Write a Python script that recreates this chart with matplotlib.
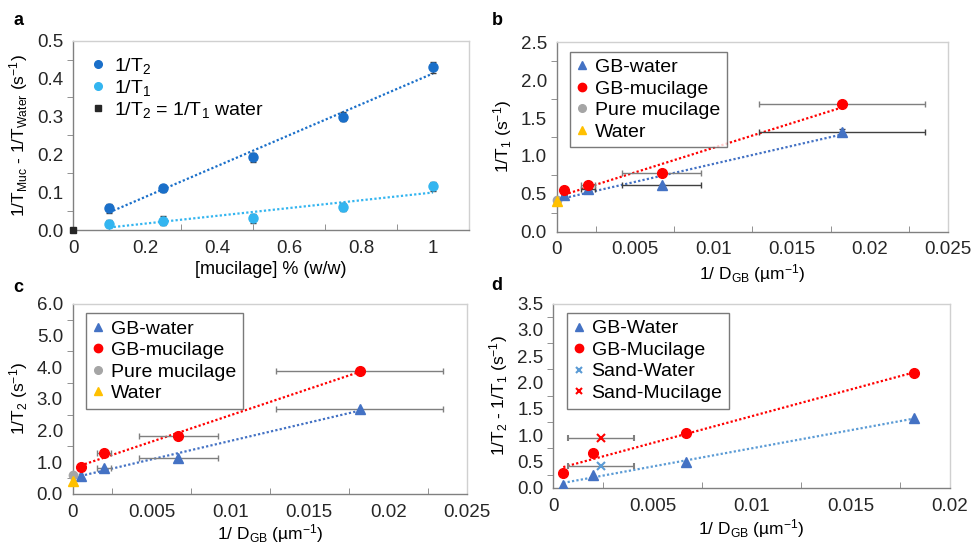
import matplotlib
matplotlib.use("Agg")
import matplotlib.pyplot as plt
from matplotlib.lines import Line2D
from matplotlib.ticker import MultipleLocator, FuncFormatter
import numpy as np

# ---- panel a: relaxation rate vs mucilage concentration
MUC_CONC = [0.1, 0.25, 0.5, 0.75, 1.0]
A_T2 = [0.058, 0.110, 0.192, 0.299, 0.430]
A_T2_ERR = [0.012, 0.010, 0.012, 0.012, 0.015]
A_T1 = [0.017, 0.025, 0.031, 0.061, 0.115]
A_T1_ERR = [0.010, 0.012, 0.012, 0.010, 0.012]
A_WATER = (0.0, 0.0)

# ---- panels b-d: against 1/D_GB
INV_D = [0.0005, 0.002, 0.0067, 0.0182]
INV_D_ERR = [0.0001, 0.00045, 0.0025, 0.0053]

B_GB_WATER = [0.48, 0.56, 0.62, 1.32]
B_GB_MUC = [0.55, 0.61, 0.77, 1.68]
B_PURE_MUC = 0.42
B_WATER = 0.41

C_GB_WATER = [0.58, 0.83, 1.15, 2.67]
C_GB_MUC = [0.85, 1.28, 1.82, 3.88]
C_PURE_MUC = 0.60
C_WATER = 0.42

D_GB_WATER = [0.06, 0.25, 0.50, 1.32]
D_GB_MUC = [0.28, 0.66, 1.04, 2.18]
SAND_X = 0.0024
SAND_X_ERR = 0.00165
D_SAND_WATER = 0.42
D_SAND_MUC = 0.94

BLUE = "#4472c4"
LBLUE = "#5b9bd5"
RED = "#ff0000"
GREY = "#a5a5a5"
YELLOW = "#ffc000"
ERR = "#7f7f7f"
T2_COL = "#1a6fc9"
T1_COL = "#33b5f0"

TICK_FS = 13.5
LAB_FS = 12.5
LEG_FS = 14

plt.rcParams.update({
    "font.family": ["Liberation Sans", "DejaVu Sans"],
    "mathtext.default": "regular",
    "font.size": 12,
    "axes.edgecolor": "#bfbfbf",
    "axes.linewidth": 1.0,
})

fig = plt.figure(figsize=(9.73, 5.47), dpi=100)


def gfmt(v, _pos):
    return f"{v:.4g}" if abs(v) > 1e-12 else "0"


def style(ax, xmaj, ymaj, yfmt):
    ax.xaxis.set_major_locator(MultipleLocator(xmaj))
    ax.xaxis.set_minor_locator(MultipleLocator(xmaj / 2))
    ax.yaxis.set_major_locator(MultipleLocator(ymaj))
    ax.yaxis.set_minor_locator(MultipleLocator(ymaj / 2))
    ax.xaxis.set_major_formatter(FuncFormatter(gfmt))
    ax.yaxis.set_major_formatter(FuncFormatter(lambda v, p: yfmt % v))
    ax.tick_params(which="major", length=0, labelsize=TICK_FS, labelcolor="#262626", pad=7)
    ax.tick_params(axis="x", which="minor", direction="in", length=4, color="#808080")
    ax.tick_params(axis="y", which="minor", direction="out", length=4, color="#808080")
    ax.spines["left"].set_color("#808080")
    ax.spines["bottom"].set_color("#808080")
    for s in ("top", "right"):
        ax.spines[s].set_color("#d0d0d0")


def fit_line(ax, x, y, color):
    x = np.asarray(x)
    k, b = np.polyfit(x, y, 1)
    xs = np.array([x.min(), x.max()])
    ax.plot(xs, k * xs + b, ls=(0, (1, 1)), lw=1.6, color=color, zorder=2)


def proxy(marker, color, ms=6.5, mew=1.0):
    return Line2D([], [], ls="none", marker=marker, color=color, ms=ms, mew=mew)


def legend_box(ax, handles, labels, anchor):
    leg = ax.legend(handles, labels, loc="upper left", bbox_to_anchor=anchor, fontsize=LEG_FS,
                    frameon=True, fancybox=False, edgecolor="#595959",
                    handlelength=0.5, handletextpad=0.4, labelspacing=0.2,
                    borderpad=0.35, borderaxespad=0)
    leg.get_frame().set_linewidth(1.0)
    return leg


# ---- a
ax = fig.add_axes([0.0753, 0.5795, 0.4067, 0.3461])
fit_line(ax, MUC_CONC, A_T2, T2_COL)
fit_line(ax, MUC_CONC, A_T1, T1_COL)
ax.errorbar(MUC_CONC, A_T2, yerr=A_T2_ERR, fmt="o", ms=6.5, color=T2_COL,
            ecolor="#404040", elinewidth=1, capsize=2, zorder=3)
ax.errorbar(MUC_CONC, A_T1, yerr=A_T1_ERR, fmt="o", ms=6.5, color=T1_COL,
            ecolor="#404040", elinewidth=1, capsize=2, zorder=3)
ax.plot([A_WATER[0]], [A_WATER[1]], "s", ms=5, color="#262626", clip_on=False, zorder=4)
ax.set_xlim(0, 1.1)
ax.set_ylim(0, 0.5)
style(ax, 0.2, 0.1, "%.1f")
ax.set_xlabel("[mucilage] % (w/w)", fontsize=13, labelpad=3)
ax.set_ylabel("1/T$_{Muc}$ - 1/T$_{Water}$ (s$^{-1}$)", fontsize=LAB_FS, labelpad=5)
ax.legend([proxy("o", T2_COL, 5.5), proxy("o", T1_COL, 5.5), proxy("s", "#262626", 4.5)],
          ["1/T$_2$", "1/T$_1$", "1/T$_2$ = 1/T$_1$ water"],
          loc="upper left", bbox_to_anchor=(0.03, 0.96), frameon=False, fontsize=LEG_FS,
          handlelength=0.5, handletextpad=0.6, labelspacing=0.1, borderaxespad=0)
fig.text(0.014, 0.963, "a", fontsize=13, fontweight="bold", va="center")

# ---- b
ax = fig.add_axes([0.5721, 0.5764, 0.4023, 0.3463])
fit_line(ax, INV_D, B_GB_MUC, RED)
fit_line(ax, INV_D, B_GB_WATER, BLUE)
ax.errorbar(INV_D, B_GB_WATER, xerr=INV_D_ERR, yerr=[0, 0, 0, 0.03], fmt="^", ms=6.5,
            color=BLUE, ecolor="#404040", elinewidth=1, capsize=2, zorder=3)
ax.errorbar(INV_D, B_GB_MUC, xerr=INV_D_ERR, fmt="o", ms=7, color=RED,
            ecolor=ERR, elinewidth=1, capsize=2, zorder=3)
ax.plot([0], [B_PURE_MUC], "o", ms=6, color=GREY, clip_on=False, zorder=3)
ax.plot([0], [B_WATER], "^", ms=7, color=YELLOW, clip_on=False, zorder=4)
ax.set_xlim(0, 0.025)
ax.set_ylim(0, 2.5)
style(ax, 0.005, 0.5, "%.1f")
ax.set_xlabel("1/ D$_{GB}$ (µm$^{-1}$)", fontsize=LAB_FS, labelpad=3)
ax.set_ylabel("1/T$_1$ (s$^{-1}$)", fontsize=LAB_FS, labelpad=5)
legend_box(ax, [proxy("^", BLUE, 5.5), proxy("o", RED, 6), proxy("o", GREY, 5.5), proxy("^", YELLOW, 5.5)],
           ["GB-water", "GB-mucilage", "Pure mucilage", "Water"], (0.035, 0.95))
fig.text(0.505, 0.963, "b", fontsize=13, fontweight="bold", va="center")

# ---- c
ax = fig.add_axes([0.0747, 0.0969, 0.4053, 0.3479])
fit_line(ax, INV_D, C_GB_MUC, RED)
fit_line(ax, INV_D, C_GB_WATER, BLUE)
ax.errorbar(INV_D, C_GB_WATER, xerr=INV_D_ERR, fmt="^", ms=6.5, color=BLUE,
            ecolor=ERR, elinewidth=1, capsize=2, zorder=3)
ax.errorbar(INV_D, C_GB_MUC, xerr=INV_D_ERR, fmt="o", ms=7, color=RED,
            ecolor=ERR, elinewidth=1, capsize=2, zorder=3)
ax.plot([0], [C_PURE_MUC], "o", ms=6, color=GREY, clip_on=False, zorder=3)
ax.plot([0], [C_WATER], "^", ms=7, color=YELLOW, clip_on=False, zorder=4)
ax.set_xlim(0, 0.025)
ax.set_ylim(0, 6.0)
style(ax, 0.005, 1.0, "%.1f")
ax.set_xlabel("1/ D$_{GB}$ (µm$^{-1}$)", fontsize=LAB_FS, labelpad=1)
ax.set_ylabel("1/T$_2$ (s$^{-1}$)", fontsize=LAB_FS, labelpad=5)
legend_box(ax, [proxy("^", BLUE, 5.5), proxy("o", RED, 6), proxy("o", GREY, 5.5), proxy("^", YELLOW, 5.5)],
           ["GB-water", "GB-mucilage", "Pure mucilage", "Water"], (0.035, 0.95))
fig.text(0.014, 0.475, "c", fontsize=13, fontweight="bold", va="center")

# ---- d
ax = fig.add_axes([0.5687, 0.1082, 0.4074, 0.3366])
fit_line(ax, INV_D, D_GB_MUC, RED)
fit_line(ax, INV_D, D_GB_WATER, LBLUE)
ax.plot(INV_D, D_GB_WATER, "^", ms=6.5, color=BLUE, zorder=3)
ax.plot(INV_D, D_GB_MUC, "o", ms=7, color=RED, zorder=3)
ax.errorbar([SAND_X], [D_SAND_WATER], xerr=[SAND_X_ERR], fmt="x", ms=6, mew=1.5,
            color=LBLUE, ecolor=ERR, elinewidth=1, capsize=2, zorder=3)
ax.errorbar([SAND_X], [D_SAND_MUC], xerr=[SAND_X_ERR], fmt="x", ms=6, mew=1.5,
            color=RED, ecolor=ERR, elinewidth=1, capsize=2, zorder=3)
ax.set_xlim(0, 0.02)
ax.set_ylim(0, 3.5)
style(ax, 0.005, 0.5, "%.1f")
ax.set_xlabel("1/ D$_{GB}$ (µm$^{-1}$)", fontsize=LAB_FS, labelpad=2)
ax.set_ylabel("1/T$_2$ - 1/T$_1$ (s$^{-1}$)", fontsize=LAB_FS, labelpad=5)
legend_box(ax, [proxy("^", BLUE, 5.5), proxy("o", RED, 6), proxy("x", LBLUE, 5, 1.5), proxy("x", RED, 5, 1.5)],
           ["GB-Water", "GB-Mucilage", "Sand-Water", "Sand-Mucilage"], (0.035, 0.95))
fig.text(0.505, 0.478, "d", fontsize=13, fontweight="bold", va="center")

fig.savefig("out.png", dpi=100)
